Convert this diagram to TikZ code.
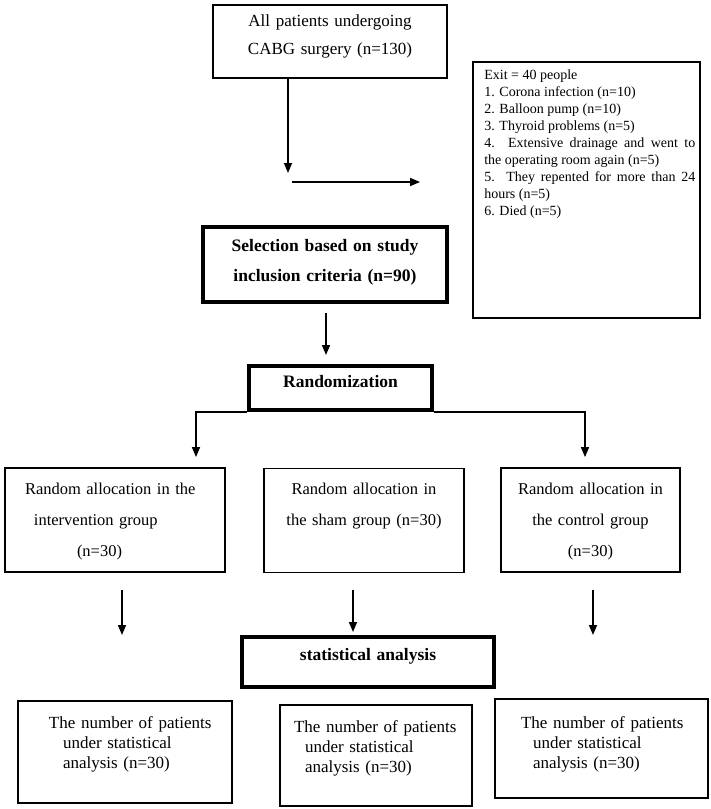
\documentclass[tikz,border=0pt]{standalone}
\usepackage{fontspec}
\setmainfont{Liberation Serif}
\usetikzlibrary{positioning,arrows.meta}

\begin{document}
\begin{tikzpicture}[
    x=1pt, y=-1pt,
    >={Triangle[length=10pt,width=8pt]},
    box/.style={draw, line width=1.8pt, inner sep=0pt, align=center, text height=12pt, font=\fontsize{17}{28}\selectfont},
    boldbox/.style={box, line width=4pt, font=\fontsize{17.5}{30}\selectfont\bfseries},
    groupbox/.style={box, minimum height=104pt, text depth=64pt, font=\fontsize{16.5}{31}\selectfont},
    resultbox/.style={box, align=left, font=\fontsize{17}{20}\selectfont},
    listtext/.style={inner sep=0pt, text width=211pt, align=justify, font=\fontsize{14}{17}\selectfont},
    flowarrow/.style={->, line width=1.5pt},
]

\useasboundingbox (0,0) rectangle (711,809);

% ---- Enrolment ----
\node[box, minimum width=234pt, minimum height=73pt, text width=226pt, text depth=43pt] (allpat) at (330,41.5) {All patients undergoing\\CABG surgery (n=130)};

% ---- Exclusions ----
\node[box, minimum width=227pt, minimum height=256pt] (exit) at (586.5,190) {};
\node[listtext, below right=8pt and 12pt of exit.north west] (exitlist) {Exit = 40 people\\
1. Corona infection (n=10)\\
2. Balloon pump (n=10)\\
3. Thyroid problems (n=5)\\
4. Extensive drainage and went to\linebreak the operating room again (n=5)\\
5. They repented for more than 24\linebreak hours (n=5)\\
6. Died (n=5)};

\coordinate (dropend) at (288,173);
\coordinate (exitstart) at (292,182);
\draw[flowarrow] (allpat.south -| dropend) -- (dropend);
\draw[flowarrow, shorten >=52pt] (exitstart) -- (exitstart -| exit.west);

% ---- Selection and randomization ----
\node[boldbox, minimum width=244pt, minimum height=75pt, text width=236pt, text depth=39pt] (select) at (325,264.5) {Selection based on study\\inclusion criteria (n=90)};
\node[boldbox, minimum width=183pt, minimum height=44pt, text width=175pt, text depth=14pt] (random) at (340.5,388) {Randomization};

\draw[flowarrow, shorten <=9pt, shorten >=9pt] ([xshift=1pt]select.south) -- ([xshift=1pt]select.south |- random.north);

% ---- Allocation ----
\node[groupbox, minimum width=220pt, text width=210pt, align=left] (intv) at (115,520) {\hspace*{15pt}Random allocation in the\\\hspace*{24pt}intervention group\\\hspace*{67pt}(n=30)};
\node[groupbox, minimum width=200pt, text width=192pt] (sham) at (364,520.5) {Random allocation in\\the sham group (n=30)};
\node[groupbox, minimum width=179pt, text width=171pt] (ctrl) at (590.5,520) {Random allocation in\\the control group\\(n=30)};

\coordinate (splitL) at (196,411);
\coordinate (splitR) at (585,411);
\draw[flowarrow, shorten >=10pt] (random.south west) -- (random.south west -| splitL) -- (splitL |- intv.north);
\draw[flowarrow, shorten >=10pt] (random.south east) -- (random.south east -| splitR) -- (splitR |- ctrl.north);

% ---- Analysis ----
\node[boldbox, minimum width=252pt, minimum height=50pt, text width=244pt, text depth=16pt] (stat) at (368,662) {statistical analysis};

\draw[flowarrow, shorten <=17pt] ([xshift=7pt]intv.south) -- ([xshift=7pt]intv.south |- stat.north);
\draw[flowarrow, shorten <=17pt, shorten >=3pt] ([xshift=-11pt]sham.south) -- ([xshift=-11pt]sham.south |- stat.north);
\draw[flowarrow, shorten <=17pt] ([xshift=2.5pt]ctrl.south) -- ([xshift=2.5pt]ctrl.south |- stat.north);

% Results per group
\node[resultbox, minimum width=214pt, minimum height=102pt, text width=206pt, text depth=60pt] (resI) at (125,752) {\hspace*{27pt}The number of patients\\\hspace*{41pt}under statistical\\\hspace*{41pt}analysis (n=30)};
\node[resultbox, minimum width=192pt, minimum height=101pt, text width=184pt, text depth=59pt] (resS) at (376,755.5) {\hspace*{10pt}The number of patients\\\hspace*{21pt}under statistical\\\hspace*{21pt}analysis (n=30)};
\node[resultbox, minimum width=213pt, minimum height=99pt, text width=205pt, text depth=53pt] (resC) at (601.5,748.5) {\hspace*{22pt}The number of patients\\\hspace*{34pt}under statistical\\\hspace*{34pt}analysis (n=30)};

\end{tikzpicture}
\end{document}
